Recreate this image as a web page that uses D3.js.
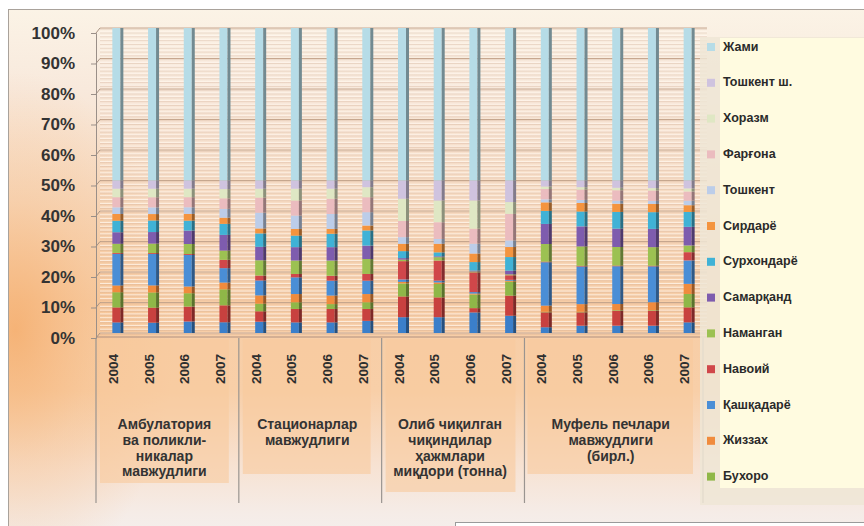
<!DOCTYPE html>
<html><head><meta charset="utf-8">
<script src="https://cdn.jsdelivr.net/npm/d3@7"></script>
<style>body{margin:0;background:#fff;} svg{display:block;font-family:"Liberation Sans",Arial,sans-serif;}</style>
</head><body><svg id="c" width="864" height="526"></svg>
<script>
// ---------- DATA ----------
const categories = ["2004","2005","2006","2007","2004","2005","2006","2007","2004","2005","2006","2007","2004","2005","2006","2006","2007"];
const groupLabels = [
  ["Амбулатория","ва поликли-","никалар","мавжудлиги"],
  ["Стационарлар","мавжудлиги"],
  ["Олиб чиқилган","чиқиндилар","ҳажмлари","миқдори (тонна)"],
  ["Муфель печлари","мавжудлиги","(бирл.)"]
];
const groupSizes = [4,4,4,5];
const seriesNames = ["Қорақалпоғистон Р.","Андижон","Бухоро","Жиззах","Қашқадарё","Навоий","Наманган","Самарқанд","Сурхондарё","Сирдарё","Тошкент","Фарғона","Хоразм","Тошкент ш.","Жами"];
const seriesColors = ["#3b7fca","#c8413f","#8fb748","#f08b3d","#4a8ed6","#d0474a","#9cc152","#7e5cae","#40b2d6","#f4943f","#bccde9","#ebbcbf","#dfe7c4","#cfc3df","#b6dce7"];
const qoraqalpogiston = [3.5,3.4,3.8,3.5, 3.7,3.5,3.5,4.0, 5.2,5.2,6.8,5.7, 1.9,2.4,2.4,2.4,3.5];
const andijon        = [4.9,4.9,4.9,5.5, 3.4,4.4,4.4,3.9, 6.8,6.5,1.4,6.6, 4.9,4.4,4.9,4.9,4.9];
const buxoro         = [5.0,5.0,4.4,5.2, 2.5,2.2,1.6,2.2, 4.3,4.4,4.5,4.6, 0.2,0.2,0.2,0.2,4.4];
const jizzax         = [2.2,2.3,2.2,2.2, 2.7,2.7,2.8,2.7, 0.5,0.5,0.3,0.3, 2.0,2.5,2.0,2.6,3.3];
const qashqadaryo    = [10.4,10.3,10.4,4.7, 4.9,5.5,4.9,4.4, 0.8,0.6,0.5,0.3, 14.3,12.4,12.4,11.8,7.7];
const navoiy         = [0.3,0.3,0.3,2.7, 1.6,1.1,1.6,2.2, 6.0,6.6,6.5,1.5, 0.2,0.2,0.2,0.2,2.7];
const namangan       = [3.0,3.1,3.3,3.0, 5.0,4.4,5.0,4.9, 0.5,1.1,0.3,0.3, 5.8,6.4,6.1,6.1,2.2];
const samarqand      = [3.8,3.8,4.4,5.1, 4.4,4.4,4.4,4.4, 0.5,0.3,0.3,1.2, 6.6,6.6,6.0,6.0,6.1];
const surxondaryo    = [3.8,3.8,3.3,3.6, 4.4,3.8,4.4,5.0, 2.3,1.3,2.8,4.5, 4.3,4.9,5.5,5.5,4.9];
const sirdaryo       = [2.2,2.1,2.2,2.0, 1.6,2.2,1.6,1.6, 2.4,2.8,2.8,3.3, 2.8,2.8,2.7,2.7,2.2];
const toshkent       = [2.2,2.2,2.2,2.9, 5.2,4.4,4.9,4.4, 2.2,1.6,3.3,2.2, 1.0,1.0,1.0,1.0,1.5];
const fargona        = [3.3,3.3,3.3,3.4, 4.9,4.9,5.0,4.9, 5.3,5.5,4.9,8.7, 3.4,3.4,3.4,3.4,3.0];
const xorazm         = [2.8,2.8,2.8,3.0, 2.9,3.9,3.3,3.3, 7.3,7.1,9.3,3.9, 0.8,0.8,0.8,0.8,1.0];
const toshkentSh     = [2.7,2.7,2.7,2.8, 2.7,2.7,2.7,2.2, 6.0,6.6,6.6,7.1, 2.0,2.2,2.4,2.5,2.6];
const jami           = [50.1,50.0,50.2,49.6, 49.9,50.1,50.1,50.1, 50.1,50.1,50.3,50.2, 50.2,50.2,50.0,50.1,50.0];
const seriesValues = [qoraqalpogiston,andijon,buxoro,jizzax,qashqadaryo,navoiy,namangan,samarqand,surxondaryo,sirdaryo,toshkent,fargona,xorazm,toshkentSh,jami];
const legendCount = 13; // entries visible in the (truncated) legend, top-down

// ---------- SETUP ----------
const svg = d3.select("#c");
const defs = svg.append("defs");
const bg = defs.append("linearGradient").attr("id","bg").attr("x1",0).attr("y1",0).attr("x2",0).attr("y2",1);
[[0,"#fbf3e6"],[0.15,"#f8e9dc"],[0.35,"#f7dcc4"],[0.55,"#f7cda6"],[0.72,"#f8cfa8"],[0.86,"#f7e2d2"],[0.95,"#f5ece7"],[1,"#f4efed"]]
  .forEach(([o,c])=>bg.append("stop").attr("offset",o).attr("stop-color",c));
const glow = defs.append("radialGradient").attr("id","glow").attr("cx",0.02).attr("cy",0.62).attr("r",0.5)
  .attr("gradientTransform","translate(0,0)");
glow.append("stop").attr("offset",0).attr("stop-color","#f5ae6e").attr("stop-opacity",0.85);
glow.append("stop").attr("offset",0.5).attr("stop-color","#f6b980").attr("stop-opacity",0.35);
glow.append("stop").attr("offset",1).attr("stop-color","#f6b980").attr("stop-opacity",0);

svg.append("rect").attr("x",8.5).attr("y",9.5).attr("width",860).attr("height",530)
  .attr("fill","url(#bg)").attr("stroke","#a9a29b").attr("stroke-width",1);
svg.append("rect").attr("x",9).attr("y",10).attr("width",320).attr("height",516).attr("fill","url(#glow)");

const x = d3.scaleBand().domain(d3.range(categories.length)).range([96,703]);
const y = d3.scaleLinear().domain([0,1]).range([333,28]);
const depth = 4;
const bw = 11;

// gridlines (back wall)
const gridG = svg.append("g");
gridG.selectAll("line.minor").data(d3.range(0,1.0001,0.0125)).join("line")
  .attr("x1",x.range()[0]+depth).attr("x2",x.range()[1]+depth)
  .attr("y1",d=>y(d)).attr("y2",d=>y(d))
  .attr("stroke","#fff6ee").attr("stroke-opacity",0.8).attr("stroke-width",1);
gridG.selectAll("line.minor2").data(d3.range(0,1.0001,0.0125)).join("line")
  .attr("x1",x.range()[0]+depth).attr("x2",x.range()[1]+depth)
  .attr("y1",d=>y(d)+1.2).attr("y2",d=>y(d)+1.2)
  .attr("stroke","#c9a58a").attr("stroke-opacity",0.4).attr("stroke-width",0.8);
gridG.selectAll("line.major").data(y.ticks(10)).join("line")
  .attr("x1",x.range()[0]+depth).attr("x2",x.range()[1]+depth)
  .attr("y1",d=>y(d)).attr("y2",d=>y(d))
  .attr("stroke","#b89378").attr("stroke-opacity",0.8).attr("stroke-width",1.2);
// side wall slant
gridG.selectAll("line.slant").data(y.ticks(10)).join("line")
  .attr("x1",x.range()[0]).attr("x2",x.range()[0]+depth)
  .attr("y1",d=>y(d)+5).attr("y2",d=>y(d))
  .attr("stroke","#a89282").attr("stroke-width",1);

// ---------- STACK ----------
const rows = categories.map((c,i)=>{const r={i}; seriesNames.forEach((s,k)=>r[s]=seriesValues[k][i]); return r;});
const stack = d3.stack().keys(seriesNames).offset(d3.stackOffsetExpand)(rows);

const barsG = svg.append("g");
stack.forEach((layer,k)=>{
  const col = seriesColors[k];
  const g = barsG.append("g");
  g.selectAll("rect.f").data(layer).join("rect")
    .attr("x",(d,i)=>x(i)+x.bandwidth()/2+depth-bw/2)
    .attr("y",d=>y(d[1])).attr("width",bw-3)
    .attr("height",d=>Math.max(0,y(d[0])-y(d[1])))
    .attr("fill",col);
  g.selectAll("rect.s").data(layer).join("rect")
    .attr("x",(d,i)=>x(i)+x.bandwidth()/2+depth-bw/2+bw-3)
    .attr("y",d=>y(d[1])).attr("width",3)
    .attr("height",d=>Math.max(0,y(d[0])-y(d[1])))
    .attr("fill",d3.color(col).darker(1.3).formatHex());
});

// floor line
svg.append("line").attr("x1",96).attr("x2",x.range()[1]+depth).attr("y1",y(0)+4).attr("y2",y(0)+4)
  .attr("stroke","#b09080").attr("stroke-width",1);

// ---------- Y AXIS ----------
const yAxisScale = y.copy().range([y(0)+5,y(1)+5]);
const yAx = svg.append("g").attr("transform","translate(96,0)")
  .call(d3.axisLeft(yAxisScale).ticks(10).tickFormat(d3.format(".0%")).tickSize(5).tickPadding(16));
yAx.select(".domain").attr("stroke","#9a8f88");
yAx.selectAll(".tick line").attr("stroke","#9a8f88");
yAx.selectAll("text").attr("font-size",17).attr("font-weight","bold").attr("fill","#333")
  .attr("font-family","'Liberation Sans',Arial,sans-serif");

// ---------- CATEGORY AXIS ----------
let start = 0;
const groupStarts = groupSizes.map(n=>{const s=start; start+=n; return s;});
const boxBottoms = [483,474,492,474];
const boxInset = [[4,10],[4,11],[4,9],[3,10]];
groupSizes.forEach((n,gi)=>{
  const s = groupStarts[gi];
  const x0 = x(s), x1 = x(s+n-1)+x.bandwidth();
  svg.append("rect").attr("x",x0+boxInset[gi][0]).attr("y",y(0)+6)
    .attr("width",(x1-x0)-boxInset[gi][0]-boxInset[gi][1]).attr("height",boxBottoms[gi]-(y(0)+6))
    .attr("fill","#f8c99d").attr("opacity",0.6);
});
const sepIdx = groupStarts.concat([categories.length]);
svg.selectAll("line.sep").data(sepIdx).join("line")
  .attr("x1",d=>d<categories.length?x(d):x.range()[1]).attr("x2",d=>d<categories.length?x(d):x.range()[1])
  .attr("y1",y(0)+5).attr("y2",503)
  .attr("stroke","#9a9490").attr("stroke-width",1.2);

svg.selectAll("text.yr").data(categories).join("text")
  .attr("transform",(d,i)=>`translate(${x(i)+x.bandwidth()/2+4},369) rotate(-90)`)
  .attr("text-anchor","middle").attr("font-size",13.5).attr("font-weight","bold").attr("fill","#2f2f2f")
  .text(d=>d);

groupLabels.forEach((lines,gi)=>{
  const s = groupStarts[gi], n = groupSizes[gi];
  const cx = (x(s)+x(s+n-1)+x.bandwidth())/2 - 3;
  const t = svg.append("text").attr("text-anchor","middle").attr("font-size",14)
    .attr("font-weight","bold").attr("fill","#333");
  lines.forEach((l,li)=>t.append("tspan").attr("x",cx).attr("y",429+li*15.8).text(l));
});

// ---------- LEGEND ----------
svg.append("rect").attr("x",700).attr("y",37).attr("width",170).attr("height",468).attr("fill","#eee6d6").attr("opacity",0.85);
svg.append("rect").attr("x",720).attr("y",38).attr("width",150).attr("height",450).attr("fill","#fffbe0");
const legendItems = d3.range(seriesNames.length-1,-1,-1).slice(0,legendCount);
const lg = svg.append("g");
legendItems.forEach((k,j)=>{
  const cy = 46+j*35.8;
  lg.append("rect").attr("x",707).attr("y",cy-3).attr("width",8).attr("height",8).attr("fill",seriesColors[k]);
  lg.append("text").attr("x",723).attr("y",cy+4.5).attr("font-size",12.5).attr("font-weight","bold")
    .attr("fill","#2a2a2a").text(seriesNames[k]);
});

svg.append("rect").attr("x",455.5).attr("y",522.5).attr("width",420).attr("height",20)
  .attr("fill","#fff").attr("stroke","#9a9a9a");
</script></body></html>
